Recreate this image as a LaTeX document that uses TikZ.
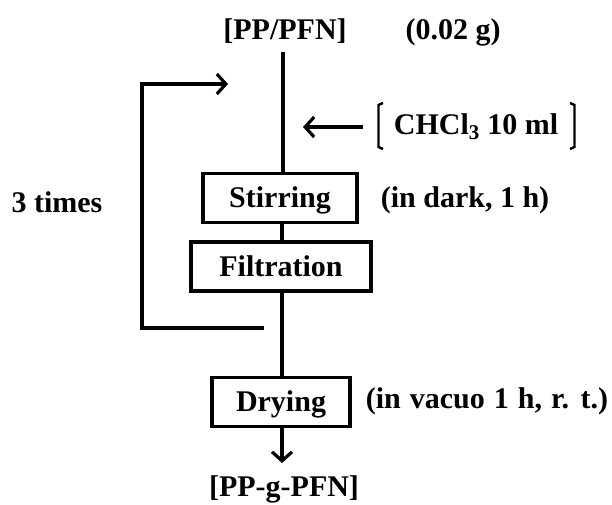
\documentclass[tikz,border=0pt]{standalone}
\usepackage{fontspec}
\setmainfont{Liberation Serif}
\usetikzlibrary{arrows.meta}
\begin{document}
\begin{tikzpicture}[x=1pt,y=-1pt,
  every node/.style={font=\fontsize{30}{35}\selectfont\bfseries, inner sep=0pt},
  boxnode/.style={draw, line width=3.2pt, minimum height=49pt, text height=19.5pt, text depth=0pt},
  ln/.style={line width=3.2pt},
  arr/.style={line width=3.2pt, -{Straight Barb[length=9pt,width=20pt,line width=3.2pt]}}]
\useasboundingbox (0,0) rectangle (612,505);
\node (top) at (285,31) {[PP/PFN]};
\node (amt) at (453,32) {(0.02 g)};
\coordinate (start) at (283,52);
\node[boxnode, minimum width=154pt] (stir) at (280,198) {Stirring};
\node[boxnode, minimum width=180pt] (filt) at (281,266.5) {Filtration};
\node[boxnode, minimum width=138pt] (dry) at (281,402) {Drying};
\node (prod) at (284,489) {[PP-g-PFN]};
\coordinate (tip) at (282,463);
\node (chcl) at (476,127) {CHCl\textsubscript{3} 10 ml};
\node (dark) at (465,200) {(in dark, 1 h)};
\node (vac) at (487,401) {\spaceskip=9pt (in vacuo 1 h, r. t.)};
\node (times) at (57,202) {3 times};
\coordinate (fbA) at (264,328);
\coordinate (fbB) at (142,328);
\coordinate (fbC) at (142,84);
\coordinate (fbD) at (228,84);
\coordinate (chA) at (363,127);
\coordinate (chB) at (303,127);
% main line
\draw[ln] (start) -- (start |- stir.north);
\draw[ln] (stir.south -| 282,0) -- (filt.north -| 282,0);
\draw[ln] (filt.south -| 282,0) -- (dry.north -| 282,0);
\draw[arr] (dry.south -| tip) -- (tip);
% feedback
\draw[arr] (fbA) -- (fbB) -- (fbC) -- (fbD);
% solvent
\draw[arr] (chA) -- (chB);
\draw[line width=2.4pt] (383,103) -- (378.5,105) -- (378.5,147) -- (383,149);
\draw[line width=2.4pt] (570,103) -- (574.5,105) -- (574.5,147) -- (570,149);
\end{tikzpicture}
\end{document}
